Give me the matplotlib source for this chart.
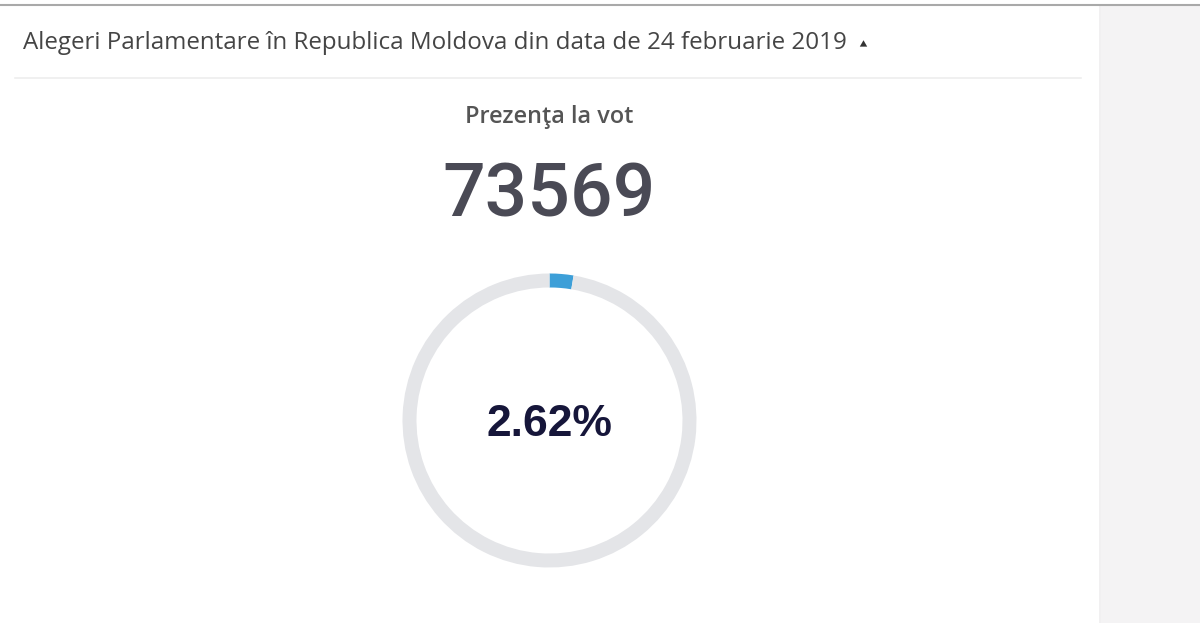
import matplotlib
matplotlib.use("Agg")
import matplotlib.pyplot as plt
from matplotlib.patches import Rectangle

# data
title_text = "Alegeri Parlamentare în Republica Moldova din data de 24 februarie 2019"
widget_label = "Prezenţa la vot"
turnout_votes = 73569
turnout_pct = 2.62
ring_values = [turnout_pct, 100 - turnout_pct]
ring_colors = ["#3d9fd8", "#e4e5e8"]

W, H = 1200, 623
fig = plt.figure(figsize=(W / 100, H / 100), dpi=100)
fig.patch.set_facecolor("white")

# pixel-space background axes
bg = fig.add_axes([0, 0, 1, 1])
bg.set_xlim(0, W)
bg.set_ylim(H, 0)
bg.axis("off")

# grey side panel and browser line on top
bg.add_patch(Rectangle((1101, 6), W - 1101, H, color="#f4f3f4", lw=0))
bg.plot([1100, 1100], [6, H], color="#efeeef", lw=1.2)
bg.plot([0, W], [5, 5], color="#a9a9a9", lw=1.5)
bg.plot([15, 1081], [78, 78], color="#eeeeee", lw=1.2)

bg.text(23, 43, title_text, fontsize=17.4, family="Open Sans", color="#454545",
        ha="left", va="center")
# small caret after the title
bg.scatter([863], [44], marker=(3, 0, 0), s=38, color="#333333", lw=0)

bg.text(549, 117, widget_label, fontsize=16.9, family="Open Sans", weight="semibold",
        color="#555555", ha="center", va="center")
bg.text(549, 196, str(turnout_votes), fontsize=54, family="Roboto", weight="medium",
        color="#4a4a55", ha="center", va="center")

# progress ring
cx, cy, r = 549.5, 420.5, 147
ring = fig.add_axes([(cx - r) / W, 1 - (cy + r) / H, 2 * r / W, 2 * r / H])
ring.pie(ring_values, colors=ring_colors, startangle=90, counterclock=False,
         radius=1, wedgeprops=dict(width=14 / r, linewidth=0))
ring.set_xlim(-1, 1)
ring.set_ylim(-1, 1)
ring.set_aspect("auto")
ring.axis("off")

bg.text(cx, cy + 4, f"{turnout_pct:.2f}%", fontsize=32, family="Liberation Sans",
        weight="bold", color="#16163a", ha="center", va="center")

fig.savefig("out.png", dpi=100)
